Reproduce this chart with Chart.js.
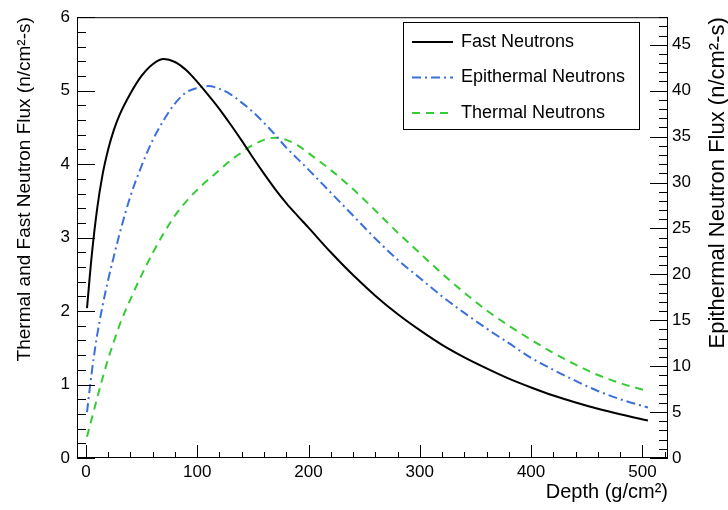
<!DOCTYPE html>
<html>
<head>
<meta charset="utf-8">
<script src="https://cdn.jsdelivr.net/npm/chart.js@4"></script>
<style>
  html, body { margin: 0; padding: 0; background: #fff; }
  #wrap { width: 728px; height: 510px; }
</style>
</head>
<body>
<div id="wrap"><canvas id="fluxChart" width="728" height="510"></canvas></div>
<script>
// Depth points (g/cm^2) the curves were read at
const depth = [1, 5, 10, 15, 20, 25, 30, 40, 50, 60, 70, 80, 90, 100, 110, 120, 130, 140, 150, 160, 170, 180, 190, 200,
  220, 240, 260, 280, 300, 320, 340, 360, 380, 400, 420, 440, 460, 480, 505];

// Fast neutrons, left axis
const fastFlux = [2.04, 2.72, 3.38, 3.86, 4.20, 4.46, 4.66, 4.96, 5.20, 5.36, 5.43, 5.39, 5.28, 5.12, 4.94, 4.75, 4.54, 4.32, 4.09, 3.87, 3.66, 3.47, 3.30, 3.135,
  2.80, 2.49, 2.21, 1.96, 1.74, 1.54, 1.37, 1.22, 1.08, 0.96, 0.85, 0.755, 0.67, 0.595, 0.51];

// Epithermal neutrons, right axis
const epiFlux = [5.0, 9.1, 13.3, 16.6, 19.4, 21.9, 24.3, 28.5, 31.8, 34.6, 36.8, 38.6, 39.8, 40.3, 40.5, 40.2, 39.6, 38.7, 37.7, 36.5, 35.2, 33.8, 32.6, 31.4,
  28.9, 26.4, 23.9, 21.6, 19.6, 17.6, 15.8, 14.1, 12.5, 10.9, 9.6, 8.4, 7.3, 6.4, 5.5];

// Thermal neutrons, left axis
const thermalFlux = [0.29, 0.52, 0.81, 1.09, 1.35, 1.58, 1.80, 2.16, 2.49, 2.79, 3.06, 3.30, 3.49, 3.65, 3.79, 3.92, 4.05, 4.16, 4.26, 4.33, 4.36, 4.33, 4.26, 4.15,
  3.92, 3.66, 3.37, 3.07, 2.79, 2.51, 2.25, 2.01, 1.80, 1.61, 1.43, 1.27, 1.13, 1.02, 0.91];

// Tick labels
const xTicks = [0, 100, 200, 300, 400, 500];
const leftTicks = [0, 1, 2, 3, 4, 5, 6];
const rightTicks = [0, 5, 10, 15, 20, 25, 30, 35, 40, 45];

const FONT = '"Liberation Sans", Arial, Helvetica, sans-serif';
const rightTitle = 'Epithermal Neutron Flux (n/cm²-s)';

function points(ys) {
  return depth.map((d, i) => ({ x: d, y: ys[i] }));
}

// ROOT style frame, inward ticks, right axis title and legend box
const rootStyle = {
  id: 'rootStyle',
  afterDraw(chart) {
    const { ctx, chartArea: a, scales } = chart;
    ctx.save();
    ctx.strokeStyle = '#000';
    ctx.lineWidth = 1;
    ctx.strokeRect(a.left + 0.5, a.top + 0.5, a.right - a.left - 1, a.bottom - a.top - 1);

    ctx.beginPath();
    // left axis: major every 1, minor every 0.2
    for (let i = 0; i <= 30; i++) {
      const y = Math.round(scales.y.getPixelForValue(i / 5)) + 0.5;
      const len = i % 5 === 0 ? 18 : 9;
      ctx.moveTo(a.left, y); ctx.lineTo(a.left + len, y);
    }
    // right axis: major every 5, minor every 1
    for (let v = 0; v <= 48; v++) {
      const y = Math.round(scales.y1.getPixelForValue(v)) + 0.5;
      const len = v % 5 === 0 ? 18 : 9;
      ctx.moveTo(a.right, y); ctx.lineTo(a.right - len, y);
    }
    // x axis: major every 100, minor every 20
    for (let v = 0; v <= 520; v += 20) {
      const x = Math.round(scales.x.getPixelForValue(v)) + 0.5;
      const len = v % 100 === 0 ? 13 : 6;
      ctx.moveTo(x, a.bottom); ctx.lineTo(x, a.bottom - len);
    }
    ctx.stroke();

    // right axis title, reading bottom to top like the left one
    ctx.fillStyle = '#000';
    ctx.font = '22px ' + FONT;
    ctx.translate(718, a.top);
    ctx.rotate(-Math.PI / 2);
    ctx.textAlign = 'right';
    ctx.textBaseline = 'middle';
    ctx.fillText(rightTitle, 0, 0);
    ctx.restore();

    // legend
    ctx.save();
    ctx.fillStyle = '#fff';
    ctx.fillRect(403, 22, 236, 107);
    ctx.strokeStyle = '#000';
    ctx.lineWidth = 1;
    ctx.strokeRect(403.5, 22.5, 236, 107);
    ctx.font = '18px ' + FONT;
    ctx.textBaseline = 'middle';
    ctx.textAlign = 'left';
    chart.data.datasets.forEach((ds, i) => {
      const y = 42 + i * 35.5;
      ctx.strokeStyle = ds.borderColor;
      ctx.lineWidth = ds.borderWidth;
      ctx.setLineDash(ds.borderDash || []);
      ctx.beginPath();
      ctx.moveTo(412, y); ctx.lineTo(453, y);
      ctx.stroke();
      ctx.setLineDash([]);
      ctx.fillStyle = '#000';
      ctx.fillText(ds.label, 461, y);
    });
    ctx.restore();
  }
};

const ctx = document.getElementById('fluxChart').getContext('2d');
const fluxChart = new Chart(ctx, {
  type: 'line',
  data: {
    datasets: [{
      label: 'Fast Neutrons',
      data: points(fastFlux),
      borderColor: '#000000',
      borderWidth: 2,
      yAxisID: 'y'
    }, {
      label: 'Epithermal Neutrons',
      data: points(epiFlux),
      borderColor: '#3b6fdc',
      borderWidth: 2,
      borderDash: [9, 4, 2, 4],
      yAxisID: 'y1'
    }, {
      label: 'Thermal Neutrons',
      data: points(thermalFlux),
      borderColor: '#33cc33',
      borderWidth: 2,
      borderDash: [8, 6],
      yAxisID: 'y'
    }]
  },
  options: {
    responsive: false,
    animation: false,
    layout: { padding: { top: 13, left: 0, right: 0, bottom: 0 } },
    elements: {
      point: { radius: 0 },
      line: { cubicInterpolationMode: 'monotone', fill: false }
    },
    plugins: {
      legend: { display: false },
      tooltip: { enabled: false }
    },
    scales: {
      x: {
        type: 'linear',
        min: -8,
        max: 523,
        grid: { display: false, drawTicks: false },
        border: { display: false },
        afterBuildTicks: s => { s.ticks = xTicks.map(v => ({ value: v })); },
        afterFit: s => { s.height = 52; },
        ticks: { color: '#000', padding: 4, maxRotation: 0, font: { family: FONT, size: 17 } },
        title: {
          display: true,
          text: 'Depth (g/cm²)',
          align: 'end',
          color: '#000',
          padding: { top: 0, bottom: 6 },
          font: { family: FONT, size: 20 }
        }
      },
      y: {
        position: 'left',
        min: 0,
        max: 6,
        grid: { display: false, drawTicks: false },
        border: { display: false },
        afterBuildTicks: s => { s.ticks = leftTicks.map(v => ({ value: v })); },
        afterFit: s => { s.width = 77; },
        ticks: { color: '#000', padding: 7, font: { family: FONT, size: 17 } },
        title: {
          display: true,
          text: 'Thermal and Fast Neutron Flux (n/cm²-s)',
          align: 'end',
          color: '#000',
          padding: { top: 13, bottom: 0 },
          font: { family: FONT, size: 19 }
        }
      },
      y1: {
        position: 'right',
        min: 0,
        max: 48,
        grid: { display: false, drawTicks: false },
        border: { display: false },
        afterBuildTicks: s => { s.ticks = rightTicks.map(v => ({ value: v })); },
        afterFit: s => { s.width = 60; },
        ticks: { color: '#000', padding: 4, font: { family: FONT, size: 17 } }
      }
    }
  },
  plugins: [rootStyle]
});
</script>
</body>
</html>
